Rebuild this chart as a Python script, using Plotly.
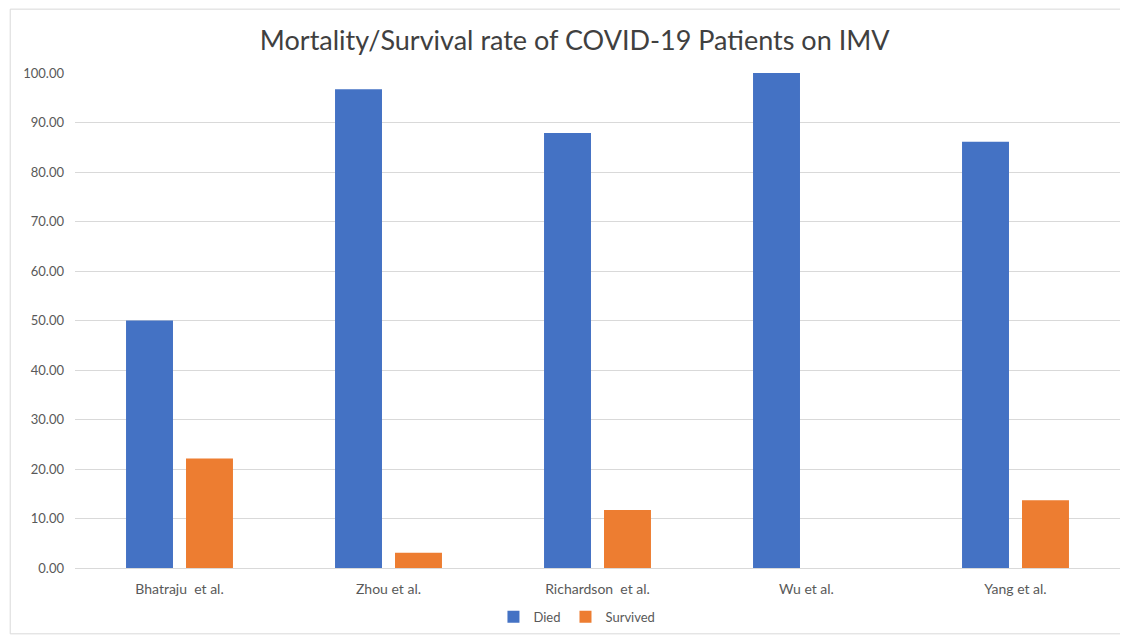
import plotly.graph_objects as go

studies = ["Bhatraju  et al.", "Zhou et al.", "Richardson  et al.", "Wu et al.", "Yang et al."]
died = [50.0, 96.7, 87.9, 100.0, 86.1]
survived = [22.1, 3.1, 11.7, 0.0, 13.7]
y_ticks = [0, 10, 20, 30, 40, 50, 60, 70, 80, 90, 100]

font_family = "Lato, Open Sans, sans-serif"

fig = go.Figure()
fig.add_trace(go.Bar(name="Died", x=studies, y=died, marker=dict(color="#4472C4", line=dict(width=0))))
fig.add_trace(go.Bar(name="Survived", x=studies, y=survived, marker=dict(color="#ED7D31", line=dict(width=0))))

fig.update_layout(
    width=1120, height=629,
    margin=dict(l=67, r=8, t=65, b=69, autoexpand=False),
    paper_bgcolor="white", plot_bgcolor="white",
    barmode="group", bargap=0.426, bargroupgap=0.217,
    title=dict(text="Mortality/Survival rate of COVID-19 Patients on IMV",
               x=0.506, xanchor="center", y=0.949, yanchor="middle",
               font=dict(family=font_family, size=27, color="#404040")),
    font=dict(family=font_family, color="#595959", size=13),
    yaxis=dict(range=[0, 100], tickvals=y_ticks, tickformat=".2f",
               showgrid=True, gridcolor="#d9d9d9", gridwidth=1,
               zeroline=False, showline=False, ticks="", ticklabelstandoff=10,
               tickfont=dict(size=13, color="#595959")),
    xaxis=dict(showline=True, linecolor="#d9d9d9", linewidth=1, ticks="", ticklabelstandoff=8,
               tickfont=dict(size=14, color="#595959")),
    legend=dict(orientation="h", x=0.508, xanchor="center", xref="container",
                y=0.032, yanchor="middle", yref="container",
                font=dict(size=13, color="#595959"), itemwidth=30, traceorder="normal"),
    shapes=[dict(type="rect", xref="paper", yref="paper",
                 x0=-0.062, x1=1.005, y0=-0.133, y1=1.129,
                 line=dict(color="#d9d9d9", width=1), fillcolor="rgba(0,0,0,0)", layer="below")],
)

fig.write_html("out.html")
